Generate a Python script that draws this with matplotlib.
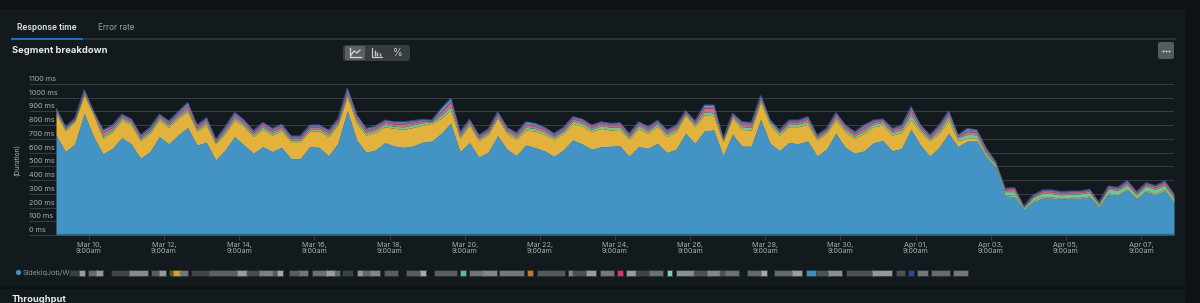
import matplotlib
matplotlib.use('Agg')
import matplotlib.pyplot as plt
from matplotlib.patches import Rectangle, FancyBboxPatch
import pandas as pd

plt.rcParams['font.family'] = ['Inter', 'DejaVu Sans']

W = 1200
H = 303

# stacked tops in ms, one value per 6 hours
blue_top = [728, 607, 663, 886, 716, 590, 631, 709, 663, 558, 607, 716, 663, 728, 782, 655, 675, 546, 619, 716,
            655, 595, 643, 607, 638, 556, 556, 643, 638, 575, 667, 905, 692, 602, 619, 672, 648, 638, 648, 675,
            684, 740, 813, 607, 672, 568, 602, 723, 624, 578, 655, 636, 612, 573, 619, 692, 663, 624, 643, 646,
            650, 573, 643, 631, 667, 600, 624, 740, 667, 757, 765, 578, 733, 648, 646, 842, 667, 614, 672, 665,
            684, 575, 624, 740, 638, 595, 612, 672, 687, 612, 631, 769, 655, 575, 638, 740, 643, 684, 684, 566,
            493, 284, 279, 182, 243, 269, 269, 262, 269, 267, 277, 201, 299, 289, 328, 260, 318, 294, 323, 231]
yellow_top = [886, 760, 825, 1019, 874, 704, 752, 837, 801, 687, 740, 837, 784, 850, 898, 757, 801, 663, 740, 837,
              789, 716, 769, 728, 760, 680, 680, 757, 757, 716, 801, 1007, 813, 728, 748, 789, 777, 769, 784, 799,
              813, 850, 910, 704, 801, 687, 733, 850, 740, 697, 765, 757, 733, 697, 740, 813, 794, 752, 777, 765,
              769, 697, 777, 740, 794, 716, 752, 874, 789, 874, 869, 680, 854, 769, 765, 971, 801, 728, 789, 789,
              806, 692, 740, 837, 752, 704, 740, 789, 801, 728, 748, 842, 752, 687, 740, 837, 687, 704, 704, 575,
              502, 291, 291, 187, 252, 279, 277, 267, 274, 274, 284, 211, 306, 296, 335, 267, 326, 303, 333, 238]
green_top = [899, 771, 836, 1030, 884, 720, 767, 852, 816, 700, 755, 852, 799, 864, 913, 770, 817, 675, 754, 853,
             804, 730, 786, 743, 775, 692, 692, 771, 771, 730, 816, 1024, 833, 743, 764, 806, 792, 788, 802, 817,
             824, 870, 938, 720, 814, 701, 745, 864, 755, 712, 785, 775, 750, 711, 756, 830, 814, 770, 797, 785,
             787, 711, 795, 756, 810, 733, 769, 885, 804, 895, 890, 691, 867, 789, 785, 988, 820, 745, 805, 809,
             826, 704, 753, 855, 770, 720, 758, 808, 820, 746, 767, 875, 770, 700, 758, 864, 707, 734, 730, 595,
             516, 316, 316, 199, 272, 305, 302, 292, 298, 299, 309, 225, 335, 325, 365, 293, 356, 333, 363, 265]
red_top = [908, 779, 842, 1042, 890, 748, 784, 864, 831, 712, 768, 866, 813, 880, 936, 784, 838, 685, 771, 871,
           820, 745, 803, 758, 791, 704, 704, 785, 785, 746, 830, 1043, 852, 758, 778, 821, 808, 806, 818, 829,
           829, 892, 968, 736, 827, 713, 758, 877, 768, 730, 803, 792, 767, 723, 767, 846, 830, 786, 811, 798,
           802, 724, 809, 771, 821, 747, 785, 895, 817, 925, 923, 696, 876, 806, 801, 1003, 829, 755, 821, 822,
           845, 716, 765, 873, 786, 737, 779, 822, 835, 762, 785, 905, 786, 713, 779, 885, 716, 754, 748, 610,
           525, 328, 333, 205, 282, 317, 316, 303, 309, 309, 321, 232, 347, 337, 381, 305, 369, 347, 379, 280]
violet_top = [918, 785, 848, 1052, 895, 755, 796, 875, 842, 722, 778, 875, 825, 892, 952, 795, 850, 694, 784, 888,
              832, 755, 816, 770, 802, 716, 716, 797, 797, 760, 841, 1062, 868, 770, 790, 833, 820, 820, 829, 838,
              833, 905, 982, 748, 838, 722, 768, 892, 780, 741, 815, 806, 780, 734, 780, 858, 840, 797, 820, 809,
              813, 734, 820, 784, 830, 760, 797, 903, 826, 937, 937, 702, 883, 820, 816, 1012, 835, 761, 832, 833,
              858, 725, 774, 887, 797, 748, 792, 833, 843, 773, 797, 929, 797, 724, 795, 899, 722, 767, 760, 625,
              531, 336, 342, 209, 288, 325, 325, 313, 317, 317, 330, 236, 354, 344, 392, 313, 378, 356, 390, 293]
total = [922, 789, 850, 1056, 898, 765, 801, 879, 845, 728, 784, 879, 830, 898, 964, 801, 854, 697, 789, 893,
         837, 760, 820, 777, 806, 721, 721, 801, 801, 765, 845, 1068, 874, 777, 794, 837, 825, 825, 833, 842,
         837, 922, 995, 752, 842, 728, 772, 896, 784, 745, 825, 813, 784, 740, 784, 862, 845, 801, 825, 813,
         818, 740, 825, 789, 835, 765, 801, 905, 830, 947, 947, 704, 886, 825, 820, 1015, 837, 765, 837, 837,
         862, 728, 777, 891, 801, 752, 801, 837, 845, 777, 801, 934, 801, 728, 801, 903, 728, 777, 765, 631,
         534, 340, 345, 211, 291, 328, 328, 316, 320, 320, 333, 238, 357, 347, 396, 316, 381, 359, 393, 296]

tick_dates = ['2023-03-10 09:00', '2023-03-12 09:00', '2023-03-14 09:00', '2023-03-16 09:00', '2023-03-18 09:00',
              '2023-03-20 09:00', '2023-03-22 09:00', '2023-03-24 09:00', '2023-03-26 09:00', '2023-03-28 09:00',
              '2023-03-30 09:00', '2023-04-01 09:00', '2023-04-03 09:00', '2023-04-05 09:00', '2023-04-07 09:00']
tick_names = ['Mar 10,', 'Mar 12,', 'Mar 14,', 'Mar 16,', 'Mar 18,', 'Mar 20,', 'Mar 22,', 'Mar 24,', 'Mar 26,',
              'Mar 28,', 'Mar 30,', 'Apr 01,', 'Apr 03,', 'Apr 05,', 'Apr 07,']
y_ticks = [0, 100, 200, 300, 400, 500, 600, 700, 800, 900, 1000, 1100]

times = pd.date_range('2023-03-09 12:00', periods=len(total), freq='6h')

BG = '#121a1d'
GRID = '#363c3f'
TXT = '#a9aeb0'

fig = plt.figure(figsize=(W / 100, H / 100), dpi=100, facecolor=BG)

# page level chrome, drawn in pixel coords
bg = fig.add_axes([0, 0, 1, 1], zorder=0)
bg.set_xlim(0, W)
bg.set_ylim(H, 0)
bg.axis('off')
bg.add_patch(Rectangle((0, 0), W, 9, color='#0d1215', lw=0))
bg.add_patch(Rectangle((1185, 0), 15, H, color='#0d1215', lw=0))
bg.add_patch(Rectangle((0, 285.5), W, 3, color='#0d1215', lw=0))
bg.plot([12, 1175], [38.5, 38.5], color='#2d3639', lw=1.3)
bg.plot([12, 82], [38.5, 38.5], color='#1f6fc0', lw=1.4)
bg.text(17, 28, 'Response time', color='#e4e6e7', fontsize=6.0, fontweight='semibold', va='center')
bg.text(98, 28, 'Error rate', color='#9da2a4', fontsize=5.9, va='center')
bg.text(12, 50.5, 'Segment breakdown', color='#e8eaeb', fontsize=6.75, fontweight='bold', va='center')
bg.text(12, 300, 'Throughput', color='#e8eaeb', fontsize=6.75, fontweight='bold', va='center')

# view switch
bg.add_patch(FancyBboxPatch((343, 45), 67, 16, boxstyle='round,pad=0,rounding_size=2.5', fc='#363c40', ec='none'))
bg.add_patch(FancyBboxPatch((345, 46), 20, 14, boxstyle='round,pad=0,rounding_size=2', fc='#5a6064', ec='none'))
bg.plot([350, 350, 361], [48, 57, 57], color='#d5d7d8', lw=0.9)
bg.plot([351, 354, 357, 360], [55, 51, 53, 50], color='#d5d7d8', lw=0.9)
bg.plot([372, 372, 382], [48, 57, 57], color='#c5c8c9', lw=0.9)
bg.vlines([374.5, 377, 379.5], [50, 52, 53], [56, 56, 56], color='#c5c8c9', lw=1.0)
bg.text(397.5, 52.5, '%', color='#c5c8c9', fontsize=7, ha='center', va='center')

# dots button
bg.add_patch(FancyBboxPatch((1158, 42), 16, 17, boxstyle='round,pad=0,rounding_size=2.5', fc='#565b5f', ec='none'))
bg.scatter([1163, 1166, 1169], [50.5, 50.5, 50.5], s=1.8, color='#e0e2e3', lw=0)

# legend, blurred in the original so only blocks of colour
legend_blocks = [(70, 80, '#3c4144'), (80, 85, '#a5a8a9'), (89, 97, '#6e7274'), (97, 103, '#a0a3a4'), (112, 130, '#45494c'),
                 (130, 148, '#909394'), (152, 160, '#5f6366'), (160, 166, '#a0a3a4'), (170, 174, '#6b5a2c'), (174, 180, '#e0ae35'),
                 (180, 188, '#7c7f80'), (192, 210, '#45494c'), (210, 238, '#62666a'), (238, 247, '#a5a8a9'), (247, 260, '#4b4f52'),
                 (260, 273, '#85888a'), (273, 278, '#5c6063'), (278, 283, '#b0b3b4'), (290, 300, '#5f6366'), (300, 308, '#7a7d7f'),
                 (313, 327, '#73777a'), (327, 335, '#a8abac'), (335, 340, '#6a6e70'), (343, 353, '#3e4346'), (358, 363, '#a0a3a4'),
                 (363, 371, '#6a6e70'), (371, 380, '#8d9092'), (385, 398, '#606467'), (407, 421, '#5f6366'), (421, 426, '#b4b7b8'),
                 (435, 457, '#606467'), (461, 466, '#62c9a2'), (470, 484, '#777b7d'), (484, 497, '#8d9092'), (500, 524, '#7c8082'),
                 (528, 533, '#c9813c'), (538, 565, '#595d60'), (569, 573, '#8d9092'), (573, 587, '#505457'), (587, 596, '#a5a8a9'),
                 (601, 614, '#7c8082'), (618, 623, '#e0357f'), (627, 636, '#a5a8a9'), (636, 650, '#43474a'), (650, 663, '#73777a'),
                 (668, 672, '#7fe0c4'), (677, 694, '#95989a'), (694, 708, '#53575a'), (708, 720, '#8d9092'), (720, 726, '#53575a'),
                 (726, 739, '#73777a'), (748, 762, '#6a6e70'), (762, 767, '#b4b7b8'), (775, 793, '#6a6e70'), (793, 802, '#a8abac'),
                 (807, 816, '#3f9bc9'), (817, 829, '#53575a'), (829, 842, '#95989a'), (847, 873, '#53575a'), (873, 892, '#a0a3a4'),
                 (897, 905, '#53575a'), (909, 914, '#2d4f9c'), (918, 928, '#7c8082'), (932, 950, '#6e7274'), (954, 968, '#7c8082')]
for x0, x1, c in legend_blocks:
    # soft halo then core, the blocks are fuzzy in the reference
    bg.add_patch(Rectangle((x0 - 1, 270), x1 - x0 + 2, 7, color=c, lw=0, alpha=0.3))
    bg.add_patch(Rectangle((x0, 271), x1 - x0, 5, color=c, lw=0, alpha=0.9))
bg.scatter([17.5], [272], s=14, color='#4394c4', lw=0)
bg.text(23, 272.5, 'SidekiqJob/W', color='#8f9496', fontsize=5.2, va='center')

# the chart itself
ax = fig.add_axes([56 / W, (H - 235) / H, (1174 - 56) / W, (235 - 84) / H], zorder=1)
ax.patch.set_alpha(0)
layers = [([0] * len(total), blue_top, '#4394c4'),
          (blue_top, yellow_top, '#e3b23c'),
          (yellow_top, green_top, '#6cc7a0'),
          (green_top, red_top, '#d9697a'),
          (red_top, violet_top, '#7a6fae'),
          (violet_top, total, '#6aa9dc')]
for low, high, c in layers:
    ax.fill_between(times, low, high, color=c, lw=0, zorder=2)
ax.plot(times, total, color='#6670b8', lw=0.9, alpha=0.55, zorder=2.5)
ax.set_xlim(times[0], times[-1])
ax.set_ylim(0, 1100)
for s in ax.spines.values():
    s.set_visible(False)
ax.axhline(0, color='#1c6d9e', lw=1.6, zorder=3)
ax.set_yticks(y_ticks)
ax.set_yticklabels([])
ax.tick_params(axis='y', length=27 * 0.72, width=0.8, color=GRID)
ax.grid(axis='y', color=GRID, lw=0.8, zorder=1)
ax.set_axisbelow(True)
for v in y_ticks:
    ax.annotate(f'{v} ms', (0, v), xycoords=('axes fraction', 'data'), xytext=(-27, 5), textcoords='offset pixels',
                color=TXT, fontsize=5.25, ha='left', va='center')
ax.annotate('(Duration)', (0, 0.5), xycoords='axes fraction', xytext=(-39, 0), textcoords='offset pixels',
            color=TXT, fontsize=4.9, rotation=90, ha='center', va='center')
ax.set_xticks(pd.to_datetime(tick_dates))
ax.set_xticklabels([n + '\n9:00am' for n in tick_names], color=TXT, fontsize=5.2, linespacing=1.0)
ax.tick_params(axis='x', length=3.5, width=0.7, color=GRID, pad=1.5)

fig.savefig('out.png', dpi=100, facecolor=BG)
